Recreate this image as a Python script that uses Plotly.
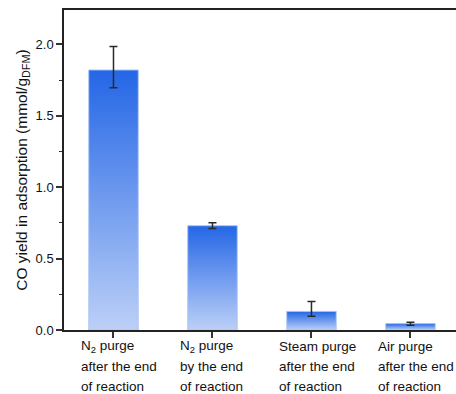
import plotly.graph_objects as go

# Adsorption CO yield for each purge treatment
categories = [
    "N<sub>2</sub> purge<br>after the end<br>of reaction",
    "N<sub>2</sub> purge<br>by the end<br>of reaction",
    "Steam purge<br>after the end<br>of reaction",
    "Air purge<br>after the end<br>of reaction",
]
co_yield = [1.82, 0.73, 0.13, 0.045]
err_plus = [0.165, 0.02, 0.07, 0.01]
err_minus = [0.125, 0.02, 0.033, 0.012]
y_ticks = [0.0, 0.5, 1.0, 1.5, 2.0]

FONT = "Arial, Liberation Sans, sans-serif"
TOP_BLUE = "#2466e6"
BOTTOM_BLUE = "#bcd0f7"
BAR_HALF = 0.25

fig = go.Figure()

# Bars drawn as filled rectangles so each one can carry a vertical gradient
for i, v in enumerate(co_yield):
    fig.add_trace(go.Scatter(
        x=[i - BAR_HALF, i + BAR_HALF, i + BAR_HALF, i - BAR_HALF, i - BAR_HALF],
        y=[0, 0, v, v, 0],
        mode="lines",
        fill="toself",
        fillgradient=dict(
            type="vertical",
            colorscale=[[0, BOTTOM_BLUE], [1, TOP_BLUE]],
        ),
        line=dict(color="rgba(170,195,245,0.9)", width=1),
        hoverinfo="skip",
        showlegend=False,
    ))

# Error bars
fig.add_trace(go.Scatter(
    x=list(range(len(co_yield))),
    y=co_yield,
    mode="markers",
    marker=dict(size=1, color="rgba(0,0,0,0)"),
    error_y=dict(
        type="data",
        symmetric=False,
        array=err_plus,
        arrayminus=err_minus,
        color="#2a2a2a",
        thickness=1.5,
        width=4,
    ),
    showlegend=False,
))

# Category labels: left-aligned text blocks under each tick
annotations = []
for i, label in enumerate(categories):
    for j, line in enumerate(label.split("<br>")):
        annotations.append(dict(
            x=i, y=0, xref="x", yref="paper",
            text=line, showarrow=False,
            xanchor="left", yanchor="middle",
            xshift=-34, yshift=-(16 + 20 * j),
            font=dict(family=FONT, size=13.5, color="#111"),
        ))

fig.update_layout(
    width=456, height=394,
    margin=dict(l=64, r=0, t=10, b=64),
    paper_bgcolor="white",
    plot_bgcolor="white",
    font=dict(family=FONT, color="#111"),
    annotations=annotations,
)

fig.update_xaxes(
    range=[-0.5, 3.46],
    tickmode="array",
    tickvals=list(range(len(categories))),
    showticklabels=False,
    ticks="outside", ticklen=6, tickwidth=1.5, tickcolor="#333",
    showline=True, linecolor="#222", linewidth=1.5, mirror=True,
    showgrid=False, zeroline=False,
)

fig.update_yaxes(
    range=[0, 2.24],
    tickmode="array",
    tickvals=y_ticks,
    ticktext=[f"{t:.1f}" for t in y_ticks],
    ticks="outside", ticklen=6, tickwidth=1.5, tickcolor="#333",
    minor=dict(ticks="outside", ticklen=3, tickwidth=1.2, tickcolor="#333", dtick=0.25),
    tickfont=dict(family=FONT, size=13, color="#111"),
    showline=True, linecolor="#222", linewidth=1.5,
    showgrid=False, zeroline=False,
    title=dict(
        text="CO yield in adsorption (mmol/g<sub>DFM</sub>)",
        font=dict(family=FONT, size=15.5, color="#111"),
        standoff=4,
    ),
)

fig.write_html("out.html")
